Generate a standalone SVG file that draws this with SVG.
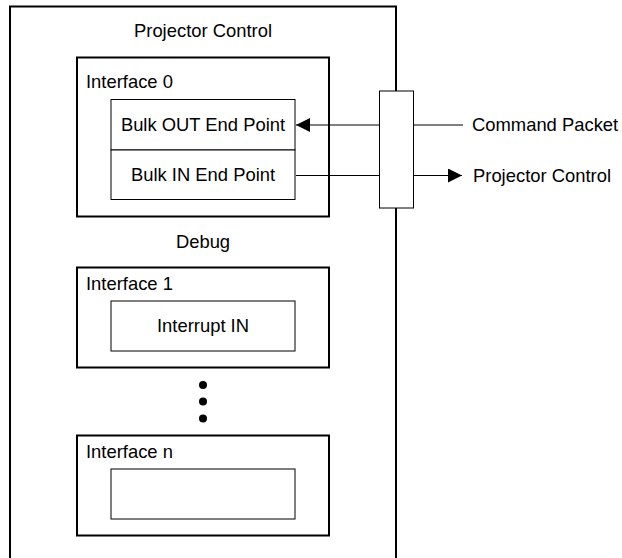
<svg xmlns="http://www.w3.org/2000/svg" width="622" height="558" viewBox="0 0 622 558">
<defs>
<style>
text{font-family:"Liberation Sans",Arial,sans-serif;font-size:18.4px;fill:#000}
.c{text-anchor:middle}
.thick{fill:#fff;stroke:#000;stroke-width:2}
.thin{fill:#fff;stroke:#000;stroke-width:1}
.ln{stroke:#000;stroke-width:1;fill:none}
</style>
<marker id="ah" viewBox="0 0 10 10" refX="10" refY="5" markerWidth="14" markerHeight="14" markerUnits="userSpaceOnUse" orient="auto"><path d="M0,0L10,5L0,10z" fill="#000"/></marker>
</defs>
<g id="outer">
<rect class="thick" x="10" y="6.5" width="386" height="560"/>
<text class="c" x="203" y="37">Projector Control</text>
<text class="c" x="203" y="248">Debug</text>
</g>
<g id="iface0">
<rect class="thick" x="77" y="57.5" width="252" height="159"/>
<text x="86" y="88">Interface 0</text>
</g>
<g id="bulkout">
<rect class="thin" x="111" y="99.5" width="184" height="50.5"/>
<text class="c" x="203" y="131">Bulk OUT End Point</text>
</g>
<g id="bulkin">
<rect class="thin" x="111" y="150" width="184" height="49.5"/>
<text class="c" x="203" y="181">Bulk IN End Point</text>
</g>
<g id="iface1">
<rect class="thick" x="77" y="267.5" width="252" height="100"/>
<text x="86" y="290">Interface 1</text>
</g>
<g id="interrupt">
<rect class="thin" x="111" y="301" width="184" height="50"/>
<text class="c" x="203" y="332">Interrupt IN</text>
</g>
<g id="dots">
<circle cx="203" cy="385" r="4"/>
<circle cx="203" cy="401.5" r="4"/>
<circle cx="203" cy="418.5" r="4"/>
</g>
<g id="ifacen">
<rect class="thick" x="77" y="435.5" width="252" height="100"/>
<text x="86" y="458">Interface n</text>
<rect class="thin" x="111" y="469" width="184" height="50"/>
</g>
<g id="connectors">
<line class="ln" x1="380" y1="125" x2="296" y2="125" marker-end="url(#ah)"/>
<line class="ln" x1="296" y1="175.5" x2="380" y2="175.5"/>
<line class="ln" x1="413" y1="125" x2="463" y2="125"/>
<line class="ln" x1="413" y1="175.5" x2="462" y2="175.5" marker-end="url(#ah)"/>
</g>
<g id="port">
<rect class="thin" x="379.5" y="91" width="34" height="117"/>
</g>
<g id="labels">
<text x="472" y="131">Command Packet</text>
<text x="473" y="182">Projector Control</text>
</g>
</svg>
